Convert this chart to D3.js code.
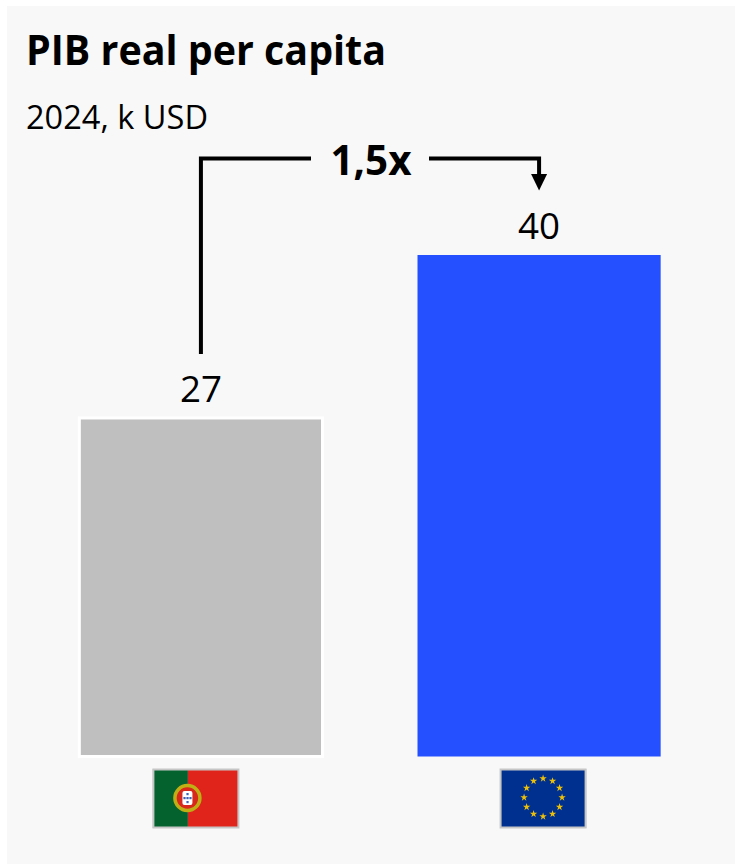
<!DOCTYPE html>
<html>
<head>
<meta charset="utf-8">
<script src="https://cdn.jsdelivr.net/npm/d3@7"></script>
<style>
html,body{margin:0;padding:0;background:#fff}
svg{display:block}
text{font-family:"Open Sans","Noto Sans",sans-serif;fill:#000}
</style>
</head>
<body>
<svg id="chart" width="735" height="864"></svg>
<script>
const categories = ["Portugal", "UE"];
const values = [27, 40];
const barColors = ["#bfbfbf", "#2450ff"];
const titleText = "PIB real per capita";
const subtitleText = "2024, k USD";
const multipleText = "1,5x";

const svg = d3.select("#chart");
svg.append("rect").attr("x", 7).attr("y", 6).attr("width", 728).attr("height", 858).attr("fill", "#f8f8f8");

const x = d3.scaleBand().domain(categories).range([32, 708]).paddingInner(0.281).paddingOuter(0.14);
const y = d3.scaleLinear().domain([0, 40]).range([756.5, 255]);
const cx = d => x(d) + x.bandwidth() / 2;

svg.append("text").attr("x", 26).attr("y", 65).attr("font-size", 41).attr("font-weight", 700)
  .attr("textLength", 360).attr("lengthAdjust", "spacingAndGlyphs").text(titleText);
svg.append("text").attr("x", 26).attr("y", 129).attr("font-size", 32)
  .attr("textLength", 182).attr("lengthAdjust", "spacingAndGlyphs").text(subtitleText);

// Bars
svg.selectAll("rect.bar").data(categories).join("rect").attr("class", "bar")
  .attr("x", d => x(d)).attr("width", x.bandwidth())
  .attr("y", (d, i) => y(values[i])).attr("height", (d, i) => y(0) - y(values[i]))
  .attr("fill", (d, i) => barColors[i])
  .attr("stroke", (d, i) => i === 0 ? "#fff" : "none").attr("stroke-width", 3);

// Value labels
svg.selectAll("text.value").data(categories).join("text").attr("class", "value")
  .attr("x", cx).attr("y", (d, i) => y(values[i]) - 16)
  .attr("text-anchor", "middle").attr("font-size", 36)
  .attr("textLength", 42).attr("lengthAdjust", "spacingAndGlyphs")
  .text((d, i) => values[i]);

// Growth bracket between the two bars
const bracketTop = 158.5;
const leftX = cx(categories[0]), rightX = cx(categories[1]);
const ink = "#000";
const bracket = svg.append("g").attr("fill", "none").attr("stroke", ink).attr("stroke-width", 4);
bracket.append("path").attr("d", d3.line()([[leftX, y(values[0]) - 64], [leftX, bracketTop], [311, bracketTop]]));
bracket.append("path").attr("d", d3.line()([[429, bracketTop], [rightX, bracketTop], [rightX, 176]]));
svg.append("path").attr("fill", ink)
  .attr("d", d3.line()([[rightX - 8, 174], [rightX + 8, 174], [rightX, 190.5]]));
svg.append("text").attr("x", 371).attr("y", 175).attr("text-anchor", "middle")
  .attr("font-size", 42).attr("font-weight", 700)
  .attr("textLength", 81).attr("lengthAdjust", "spacingAndGlyphs").text(multipleText);

// Flags under the axis
const flagW = 86, flagH = 59, flagY = 769;
function flagFrame(g) {
  g.append("rect").attr("x", 0.5).attr("y", 0.5).attr("width", flagW - 1).attr("height", flagH - 1)
    .attr("fill", "none").attr("stroke", "#c6c6c6").attr("stroke-width", 2);
}
const pt = svg.append("g").attr("transform", `translate(${cx(categories[0]) - 48},${flagY})`);
pt.append("rect").attr("width", 35).attr("height", flagH).attr("fill", "#04622f");
pt.append("rect").attr("x", 35).attr("width", flagW - 35).attr("height", flagH).attr("fill", "#e0241c");
pt.append("circle").attr("cx", 34.5).attr("cy", 29).attr("r", 12.5).attr("fill", "#d8281c")
  .attr("stroke", "#bfae14").attr("stroke-width", 3.5);
pt.append("rect").attr("x", 29.5).attr("y", 22).attr("width", 10).attr("height", 14).attr("rx", 2).attr("fill", "#fff");
// Five small blue shields in a cross on the white field
const quinas = [[0, -4], [-3, 0], [0, 0], [3, 0], [0, 4]];
pt.selectAll("rect.quina").data(quinas).join("rect").attr("class", "quina")
  .attr("x", d => 33.5 + d[0]).attr("y", d => 28 + d[1]).attr("width", 2.2).attr("height", 2.2).attr("fill", "#3f62b4");
flagFrame(pt);

const eu = svg.append("g").attr("transform", `translate(${cx(categories[1]) - 39},${flagY})`);
eu.append("rect").attr("width", flagW).attr("height", flagH).attr("fill", "#00308f");
const starAngles = d3.range(12);
const starPath = d3.symbol(d3.symbolStar, 17)();
eu.selectAll("path.star").data(starAngles).join("path").attr("class", "star")
  .attr("d", starPath).attr("fill", "#ecbf08")
  .attr("transform", i => {
    const a = i * Math.PI / 6;
    return `translate(${43 + 19 * Math.sin(a)},${28.5 - 19 * Math.cos(a)})`;
  });
flagFrame(eu);
</script>
</body>
</html>
